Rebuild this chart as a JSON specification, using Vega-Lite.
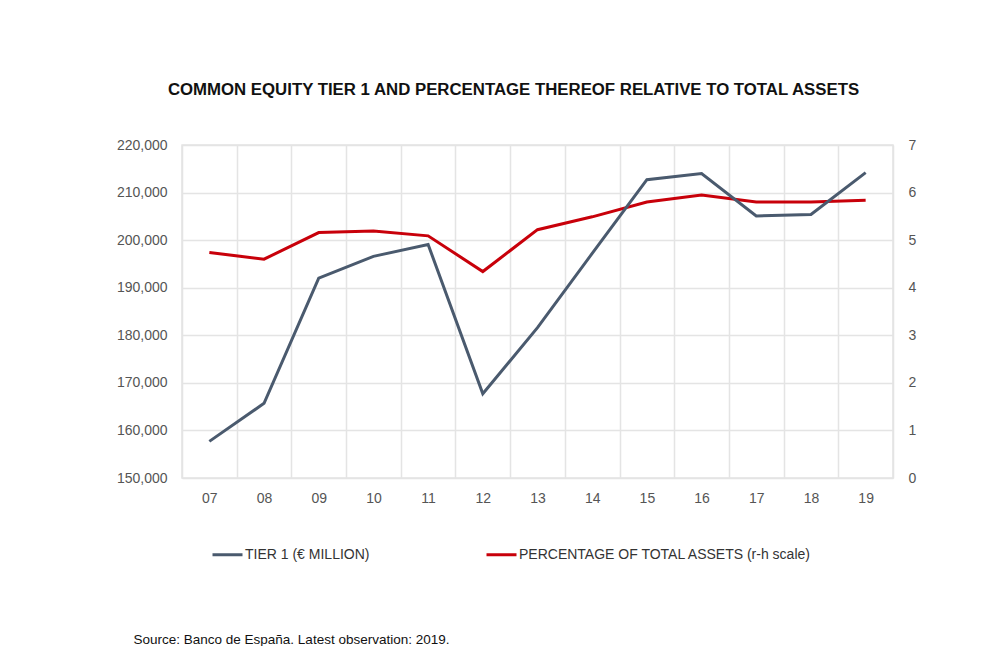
{
  "$schema": "https://vega.github.io/schema/vega-lite/v6.json",
  "width": 711,
  "height": 333,
  "autosize": {"type": "none"},
  "padding": {"left": 182, "top": 145, "right": 92, "bottom": 168},
  "background": "white",
  "config": {
    "font": "Liberation Sans",
    "view": {"stroke": "#e4e4e4", "strokeWidth": 1.5}
  },
  "title": {
    "text": "COMMON EQUITY TIER 1 AND PERCENTAGE THEREOF RELATIVE TO TOTAL ASSETS",
    "font": "Liberation Sans",
    "fontSize": 16.8,
    "fontWeight": "bold",
    "color": "#111111",
    "anchor": "middle",
    "frame": "group",
    "dx": -24,
    "offset": 39
  },
  "data": {
    "values": [
      {"year": "07", "series": "TIER 1 (€ MILLION)", "value": 157700},
      {"year": "08", "series": "TIER 1 (€ MILLION)", "value": 165700},
      {"year": "09", "series": "TIER 1 (€ MILLION)", "value": 192000},
      {"year": "10", "series": "TIER 1 (€ MILLION)", "value": 196600},
      {"year": "11", "series": "TIER 1 (€ MILLION)", "value": 199100},
      {"year": "12", "series": "TIER 1 (€ MILLION)", "value": 167700},
      {"year": "13", "series": "TIER 1 (€ MILLION)", "value": 181600},
      {"year": "14", "series": "TIER 1 (€ MILLION)", "value": 197200},
      {"year": "15", "series": "TIER 1 (€ MILLION)", "value": 212700},
      {"year": "16", "series": "TIER 1 (€ MILLION)", "value": 214000},
      {"year": "17", "series": "TIER 1 (€ MILLION)", "value": 205100},
      {"year": "18", "series": "TIER 1 (€ MILLION)", "value": 205400},
      {"year": "19", "series": "TIER 1 (€ MILLION)", "value": 214200},
      {"year": "07", "series": "PERCENTAGE OF TOTAL ASSETS (r-h scale)", "value": 4.74},
      {"year": "08", "series": "PERCENTAGE OF TOTAL ASSETS (r-h scale)", "value": 4.60},
      {"year": "09", "series": "PERCENTAGE OF TOTAL ASSETS (r-h scale)", "value": 5.16},
      {"year": "10", "series": "PERCENTAGE OF TOTAL ASSETS (r-h scale)", "value": 5.19},
      {"year": "11", "series": "PERCENTAGE OF TOTAL ASSETS (r-h scale)", "value": 5.09},
      {"year": "12", "series": "PERCENTAGE OF TOTAL ASSETS (r-h scale)", "value": 4.34},
      {"year": "13", "series": "PERCENTAGE OF TOTAL ASSETS (r-h scale)", "value": 5.22},
      {"year": "14", "series": "PERCENTAGE OF TOTAL ASSETS (r-h scale)", "value": 5.49},
      {"year": "15", "series": "PERCENTAGE OF TOTAL ASSETS (r-h scale)", "value": 5.80},
      {"year": "16", "series": "PERCENTAGE OF TOTAL ASSETS (r-h scale)", "value": 5.95},
      {"year": "17", "series": "PERCENTAGE OF TOTAL ASSETS (r-h scale)", "value": 5.80},
      {"year": "18", "series": "PERCENTAGE OF TOTAL ASSETS (r-h scale)", "value": 5.80},
      {"year": "19", "series": "PERCENTAGE OF TOTAL ASSETS (r-h scale)", "value": 5.84}
    ]
  },
  "encoding": {
    "x": {
      "field": "year",
      "type": "ordinal",
      "scale": {"type": "band", "paddingInner": 0, "paddingOuter": 0},
      "axis": {
        "title": "Source: Banco de España. Latest observation: 2019.",
        "titleX": -49,
        "titleY": 165,
        "titleAlign": "left",
        "titleAnchor": "start",
        "titleBaseline": "alphabetic",
        "titleFontSize": 13.5,
        "titleFontWeight": "normal",
        "titleColor": "#111111",
        "labelAngle": 0,
        "labelFontSize": 14,
        "labelColor": "#555555",
        "labelPadding": 13,
        "ticks": false,
        "domain": false,
        "grid": true,
        "gridColor": "#e4e4e4",
        "gridWidth": 1.5,
        "tickBand": "extent"
      }
    },
    "color": {
      "field": "series",
      "type": "nominal",
      "scale": {
        "domain": ["TIER 1 (€ MILLION)", "PERCENTAGE OF TOTAL ASSETS (r-h scale)"],
        "range": ["#4a5a6e", "#c8000a"]
      },
      "legend": {
        "title": null,
        "orient": "none",
        "legendX": 29,
        "legendY": 393,
        "direction": "horizontal",
        "symbolType": "stroke",
        "symbolSize": 900,
        "symbolStrokeWidth": 3,
        "labelFontSize": 14,
        "labelColor": "#333333",
        "labelOffset": 1,
        "labelLimit": 500,
        "columnPadding": 110
      }
    }
  },
  "layer": [
    {
      "transform": [{"filter": {"field": "series", "equal": "PERCENTAGE OF TOTAL ASSETS (r-h scale)"}}],
      "mark": {"type": "line", "strokeWidth": 3},
      "encoding": {
        "y": {
          "field": "value",
          "type": "quantitative",
          "scale": {"domain": [0, 7], "nice": false},
          "axis": {
            "orient": "right",
            "title": null,
            "values": [0, 1, 2, 3, 4, 5, 6, 7],
            "grid": false,
            "ticks": false,
            "domain": false,
            "labelFontSize": 14,
            "labelColor": "#555555",
            "labelPadding": 15
          }
        }
      }
    },
    {
      "transform": [{"filter": {"field": "series", "equal": "TIER 1 (€ MILLION)"}}],
      "mark": {"type": "line", "strokeWidth": 3},
      "encoding": {
        "y": {
          "field": "value",
          "type": "quantitative",
          "scale": {"domain": [150000, 220000], "nice": false, "zero": false},
          "axis": {
            "orient": "left",
            "title": null,
            "values": [150000, 160000, 170000, 180000, 190000, 200000, 210000, 220000],
            "format": ",d",
            "grid": true,
            "gridColor": "#e4e4e4",
            "gridWidth": 1.5,
            "ticks": false,
            "domain": false,
            "labelFontSize": 14,
            "labelColor": "#555555",
            "labelPadding": 15
          }
        }
      }
    }
  ],
  "resolve": {"scale": {"y": "independent"}}
}
